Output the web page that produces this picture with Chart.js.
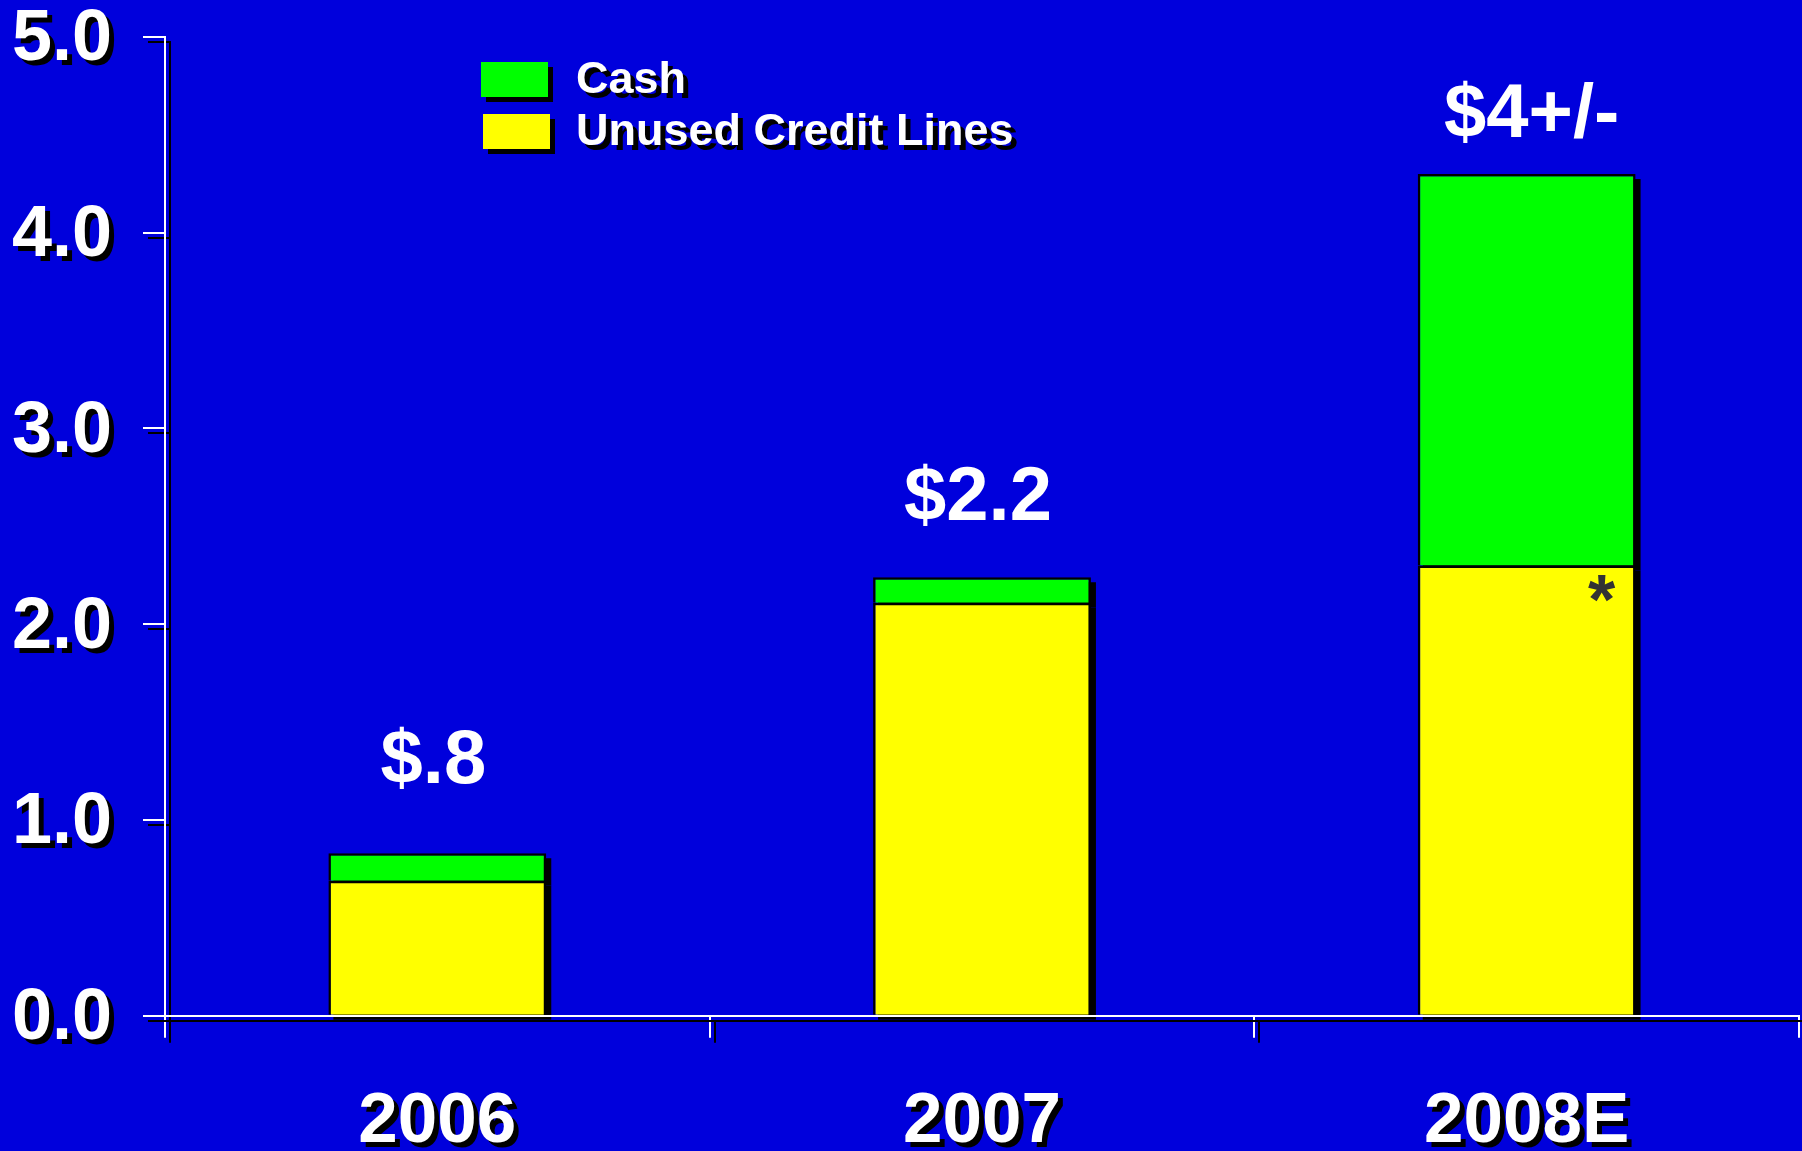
<!DOCTYPE html>
<html>
<head>
<meta charset="utf-8">
<script src="https://cdn.jsdelivr.net/npm/chart.js@4"></script>
<style>
  html, body { margin: 0; padding: 0; background: #0000dc; overflow: hidden; }
  #wrap { position: relative; width: 1802px; height: 1151px; }
</style>
</head>
<body>
<div id="wrap"><canvas id="c"></canvas></div>
<script>
// ---- data ----
const categories = ['2006', '2007', '2008E'];
const unusedCreditLines = [0.69, 2.11, 2.30];
const cash = [0.14, 0.13, 2.00];
const totalLabels = ['$.8', '$2.2', '$4+/-'];
const totalLabelBaselines = [1.19, 2.53, 4.49]; // in axis units
const seriesNames = ['Unused Credit Lines', 'Cash'];
const seriesColors = ['#ffff00', '#00ff00'];
const yMin = 0, yMax = 5, yStep = 1;

const FONT = '"Liberation Sans", Arial, Helvetica, sans-serif';
const SHADOW = 5;
const labelShiftX = [-4, -4, 5];

function setShadow(ctx) {
  ctx.shadowColor = '#000000';
  ctx.shadowOffsetX = SHADOW;
  ctx.shadowOffsetY = SHADOW;
  ctx.shadowBlur = 0;
}

const decor = {
  id: 'decor',
  beforeDraw(chart) {
    const ctx = chart.ctx;
    ctx.save();
    setShadow(ctx);
  },
  beforeDatasetsDraw(chart) {
    const ctx = chart.ctx;
    ctx.restore();
    // bar drop shadows
    ctx.save();
    ctx.fillStyle = '#000000';
    chart.data.datasets.forEach((ds, di) => {
      const meta = chart.getDatasetMeta(di);
      meta.data.forEach(bar => {
        const top = Math.min(bar.y, bar.base);
        const h = Math.abs(bar.base - bar.y);
        ctx.fillRect(bar.x - bar.width / 2 + SHADOW, top + SHADOW, bar.width, h);
      });
    });
    ctx.restore();
  },
  afterDatasetsDraw(chart) {
    const ctx = chart.ctx;
    ctx.save();
    setShadow(ctx);
  },
  afterDraw(chart) {
    const ctx = chart.ctx;
    ctx.restore();
    const y = chart.scales.y;
    const topMeta = chart.getDatasetMeta(1);
    const baseMeta = chart.getDatasetMeta(0);

    // total labels above bars (no shadow)
    ctx.save();
    ctx.fillStyle = '#ffffff';
    ctx.font = 'bold 76px ' + FONT;
    ctx.textAlign = 'center';
    ctx.textBaseline = 'alphabetic';
    topMeta.data.forEach((bar, i) => {
      ctx.fillText(totalLabels[i], bar.x + labelShiftX[i], y.getPixelForValue(totalLabelBaselines[i]));
    });
    ctx.restore();

    // asterisk on the 2008E credit-line segment
    ctx.save();
    const last = baseMeta.data[baseMeta.data.length - 1];
    ctx.fillStyle = '#333333';
    ctx.font = 'bold 70px ' + FONT;
    ctx.textAlign = 'center';
    ctx.textBaseline = 'alphabetic';
    ctx.fillText('*', last.x + last.width / 2 - 34, last.y + 59);
    ctx.restore();

    // legend (Cash first, then Unused Credit Lines)
    ctx.save();
    setShadow(ctx);
    const items = [
      { name: seriesNames[1], color: seriesColors[1], box: [481, 62, 67, 35], base: 93 },
      { name: seriesNames[0], color: seriesColors[0], box: [483, 114, 67, 35], base: 145 }
    ];
    ctx.font = 'bold 45px ' + FONT;
    ctx.textAlign = 'left';
    ctx.textBaseline = 'alphabetic';
    items.forEach(it => {
      ctx.fillStyle = it.color;
      ctx.fillRect(it.box[0], it.box[1], it.box[2], it.box[3]);
      ctx.fillStyle = '#ffffff';
      ctx.fillText(it.name, 576, it.base);
    });
    ctx.restore();
  }
};

new Chart(document.getElementById('c'), {
  type: 'bar',
  data: {
    labels: categories,
    datasets: [
      {
        label: seriesNames[0],
        data: unusedCreditLines,
        backgroundColor: seriesColors[0],
        borderColor: '#000000',
        borderWidth: 2.5,
        borderSkipped: 'bottom'
      },
      {
        label: seriesNames[1],
        data: cash,
        backgroundColor: seriesColors[1],
        borderColor: '#000000',
        borderWidth: 2.5,
        borderSkipped: 'bottom'
      }
    ]
  },
  options: {
    responsive: true,
    maintainAspectRatio: false,
    devicePixelRatio: 1,
    animation: false,
    events: [],
    barPercentage: 0.8,
    categoryPercentage: 0.5,
    layout: { padding: { left: 0, top: 37, right: 3, bottom: 0 } },
    plugins: {
      legend: { display: false },
      tooltip: { enabled: false },
      title: { display: false }
    },
    scales: {
      x: {
        stacked: true,
        offset: true,
        grid: {
          offset: true,
          drawOnChartArea: false,
          drawTicks: true,
          tickLength: 22,
          color: '#ffffff',
          lineWidth: 2
        },
        border: { display: true, color: '#ffffff', width: 2, z: 1 },
        ticks: {
          color: '#ffffff',
          font: { family: FONT, size: 71, weight: 'bold' },
          padding: 42,
          maxRotation: 0,
          autoSkip: false
        },
        afterFit(s) {
          s.height = 135.3;
          s.paddingLeft = 0;
          s.paddingRight = 0;
        }
      },
      y: {
        stacked: true,
        min: yMin,
        max: yMax,
        grid: {
          drawOnChartArea: false,
          drawTicks: true,
          tickLength: 22,
          color: '#ffffff',
          lineWidth: 2
        },
        border: { display: true, color: '#ffffff', width: 2 },
        ticks: {
          stepSize: yStep,
          color: '#ffffff',
          font: { family: FONT, size: 72, weight: 'bold' },
          padding: 31,
          labelOffset: 3.5,
          callback: v => Number(v).toFixed(1)
        },
        afterFit(s) {
          s.width = 165;
          s.paddingTop = 0;
          s.paddingBottom = 0;
        }
      }
    }
  },
  plugins: [decor]
});
</script>
</body>
</html>
